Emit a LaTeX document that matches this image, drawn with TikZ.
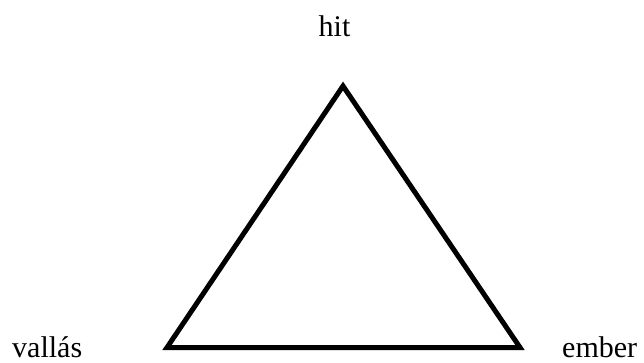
\documentclass[tikz,border=0pt]{standalone}
\usepackage{fontspec}
\setmainfont{Liberation Serif}

\begin{document}
\begin{tikzpicture}[x=1pt, y=1pt,
    word/.style={font=\fontsize{30}{36}\selectfont, inner sep=0pt, anchor=base},
    side/.style={line width=5pt, line join=miter}]
    \useasboundingbox (0,0) rectangle (644,362);

    % corners
    \coordinate (apex) at (343,276);
    \coordinate (bl) at (167,14.5);
    \coordinate (br) at (520,14.5);

    % triangle
    \draw[side] (apex) -- (bl) -- (br) -- cycle;

    % labels
    \node[word] (hit) at (334.5,325) {hit};
    \node[word, anchor=base west] (vallas) at (12,5) {vallás};
    \node[word, anchor=base west] (ember) at (562,5) {ember};
\end{tikzpicture}
\end{document}
